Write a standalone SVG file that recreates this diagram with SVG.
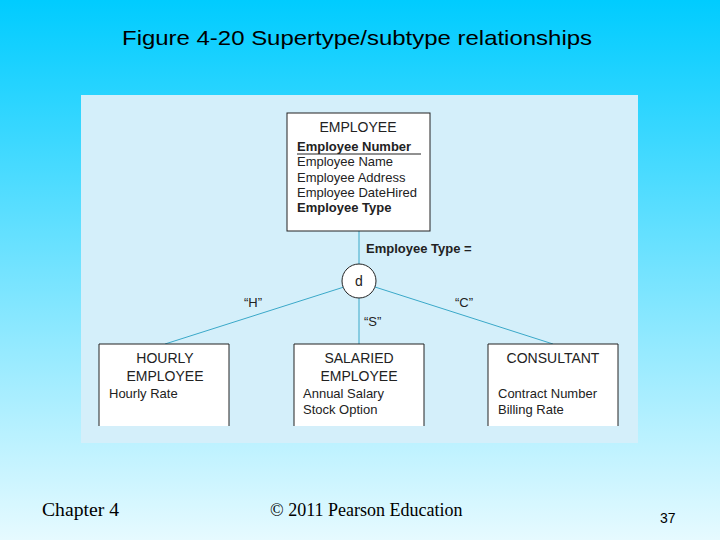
<svg xmlns="http://www.w3.org/2000/svg" width="720" height="540" viewBox="0 0 720 540">
<defs>
<linearGradient id="bg" x1="0" y1="0" x2="0" y2="1">
<stop offset="0" stop-color="#00ccff"/>
<stop offset="1" stop-color="#e6faff"/>
</linearGradient>
<style>
.box{fill:#fff;stroke:#222;stroke-width:1}
.ln{stroke:#3aa8c8;stroke-width:1;fill:none}
.t{font-family:"Liberation Sans",Arial,sans-serif;font-size:13px;fill:#222}
.b{font-weight:bold}
.h{font-family:"Liberation Sans",Arial,sans-serif;font-size:14px;fill:#222;text-anchor:middle}
</style>
</defs>
<rect width="720" height="540" fill="url(#bg)"/>
<text x="357" y="45" text-anchor="middle" font-family="Liberation Sans,Arial,sans-serif" font-size="21" textLength="470" lengthAdjust="spacingAndGlyphs" fill="#000">Figure 4-20 Supertype/subtype relationships</text>
<rect x="81" y="95" width="557" height="348" fill="#d4effa"/>
<g id="connectors">
<line class="ln" x1="359" y1="231" x2="359" y2="264"/>
<line class="ln" x1="359" y1="298" x2="359" y2="344"/>
<line class="ln" x1="344" y1="287" x2="165" y2="344"/>
<line class="ln" x1="375" y1="287" x2="553" y2="344"/>
<text class="t b" x="366" y="253">Employee Type =</text>
<text class="t" x="244" y="307">“H”</text>
<text class="t" x="364" y="326">“S”</text>
<text class="t" x="455" y="307">“C”</text>
</g>
<g id="d">
<circle cx="359" cy="281" r="17" fill="#fff" stroke="#222"/>
<text class="h" x="359" y="286">d</text>
</g>
<g id="employee">
<rect class="box" x="287" y="113" width="143" height="118"/>
<text class="h" x="358" y="132">EMPLOYEE</text>
<text class="t b" x="297" y="151">Employee Number</text>
<line x1="297" y1="154" x2="421" y2="154" stroke="#222"/>
<text class="t" x="297" y="166">Employee Name</text>
<text class="t" x="297" y="182">Employee Address</text>
<text class="t" x="297" y="197">Employee DateHired</text>
<text class="t b" x="297" y="212">Employee Type</text>
</g>
<g id="hourly">
<path class="box" d="M99 426V344H229V426" fill="#fff"/>
<text class="h" x="165" y="363">HOURLY</text>
<text class="h" x="165" y="381">EMPLOYEE</text>
<text class="t" x="109" y="398">Hourly Rate</text>
</g>
<g id="salaried">
<path class="box" d="M294 426V344H424V426"/>
<text class="h" x="359" y="363">SALARIED</text>
<text class="h" x="359" y="381">EMPLOYEE</text>
<text class="t" x="303" y="398">Annual Salary</text>
<text class="t" x="303" y="414">Stock Option</text>
</g>
<g id="consultant">
<path class="box" d="M488 426V344H618V426"/>
<text class="h" x="553" y="363">CONSULTANT</text>
<text class="t" x="498" y="398">Contract Number</text>
<text class="t" x="498" y="414">Billing Rate</text>
</g>
<text x="42" y="516" font-family="Liberation Serif,serif" font-size="19" textLength="77" lengthAdjust="spacingAndGlyphs">Chapter 4</text>
<text x="270" y="516" font-family="Liberation Serif,serif" font-size="18">© 2011 Pearson Education</text>
<text x="660" y="523" font-family="Liberation Sans,sans-serif" font-size="14">37</text>
</svg>
